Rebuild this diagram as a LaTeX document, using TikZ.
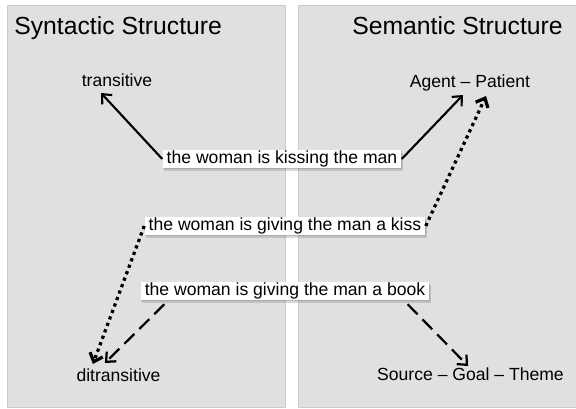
\documentclass[tikz,border=0pt]{standalone}
\usepackage{fontspec}
\setmainfont{Liberation Sans}
\usetikzlibrary{arrows.meta,shadows}
\tikzset{
  panel/.style={draw=black!20, fill=black!12, line width=0.6pt},
  heading/.style={font=\fontsize{17.6}{20}\selectfont, inner sep=0pt},
  term/.style={font=\fontsize{12.5}{15}\selectfont, inner sep=0pt},
  sentence/.style={fill=white, font=\fontsize{12.5}{15}\selectfont,
    inner xsep=3pt, inner ysep=0.3pt, text height=9.4pt, text depth=2.8pt,
    double copy shadow={shadow xshift=0.6pt, shadow yshift=-0.9pt,
      opacity=0.25, fill=black!60, draw=none}},
  link/.style={-{Straight Barb[length=1.9mm,width=3.4mm]}},
  plainlink/.style={link, line width=1.5pt},
  dotlink/.style={link, line width=2.3pt, dash pattern=on 2.3pt off 2.6pt},
  dashlink/.style={link, line width=1.6pt, dash pattern=on 10pt off 5pt},
}

\begin{document}
\begin{tikzpicture}
\useasboundingbox (0,0) rectangle (14.4,10.225);

% the two panels
\draw[panel] (0.175,0.05) rectangle (7.125,10.1);
\draw[panel] (7.45,0.05) rectangle (14.6,10.1);

\node[heading, anchor=base west] (syntax) at (0.35,9.35) {Syntactic Structure};
\node[heading, anchor=base east] (semantics) at (14.075,9.35) {Semantic Structure};

% constructions and roles
\node[term, anchor=base] (trans) at (2.925,8.05) {transitive};
\node[term, anchor=base] (ditrans) at (2.9625,0.675) {ditransitive};
\node[term, anchor=base] (agent) at (11.75,8.025) {Agent – Patient};
\node[term, anchor=base] (source) at (11.7625,0.7) {Source – Goal – Theme};

% sentences
\node[sentence] (kissing) at (7.05,6.25) {the woman is kissing the man};
\node[sentence] (kiss) at (7.125,4.575) {the woman is giving the man a kiss};
\node[sentence] (book) at (7.125,2.95) {the woman is giving the man a book};

\draw[plainlink] (kissing.west) -- ([shift={(-0.4,-0.15)}]trans.base);
\draw[plainlink] (kissing.east) -- ([shift={(-0.175,-0.175)}]agent.base);

\draw[dotlink] (kiss.east) -- ([shift={(0.4,-0.2)}]agent.base);
\draw[dotlink] (kiss.west) -- ([shift={(-0.64,0.45)}]ditrans.base);

\draw[dashlink] ([shift={(0.6,-0.1)}]book.south west) -- ([shift={(-0.34,0.475)}]ditrans.base);
\draw[dashlink] ([shift={(-0.55,-0.1)}]book.south east) -- ([shift={(-0.06,0.375)}]source.base);
\end{tikzpicture}
\end{document}
